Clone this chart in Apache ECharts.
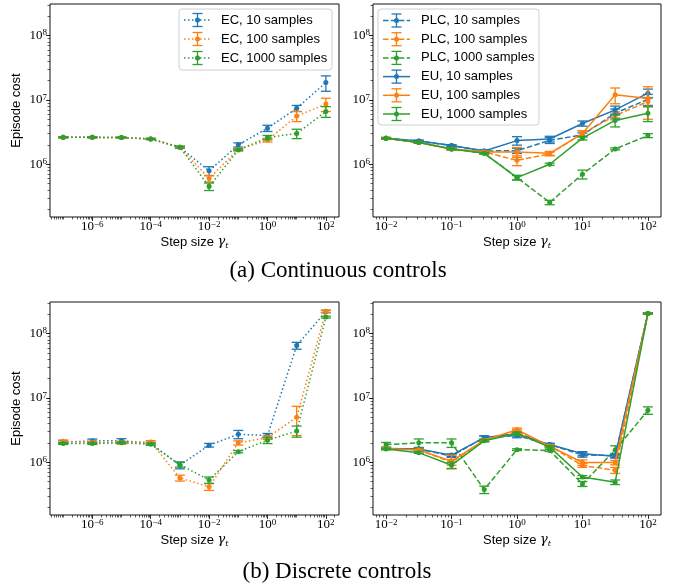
<!DOCTYPE html>
<html><head><meta charset="utf-8">
<script src="https://cdn.jsdelivr.net/npm/echarts@6/dist/echarts.min.js"></script>
<style>html,body{margin:0;padding:0;background:#fff}#c{width:675px;height:587px}</style>
</head><body><div id="c"></div>
<script>
// ---------- data ----------
const xEC = [1e-7, 1e-6, 1e-5, 1e-4, 1e-3, 1e-2, 1e-1, 1, 10, 100];
const xPU = [0.01, 0.0316, 0.1, 0.316, 1, 3.16, 10, 31.6, 100];

const ecXTicks = [1e-6, 1e-4, 1e-2, 1, 100];
const puXTicks = [0.01, 0.1, 1, 10, 100];
const yTicks = [1e6, 1e7, 1e8];

// (a) Continuous controls
const ec10C      = [2.62e6, 2.62e6, 2.60e6, 2.47e6, 1.84e6, 7.9e5, 2.0e6, 3.63e6, 7.4e6, 1.86e7];
const ec10CErr   = [4e4, 4e4, 4e4, 5e4, 6e4, 1.25e5, 1.5e5, 4e5, 8e5, 5e6];
const ec100C     = [2.62e6, 2.62e6, 2.60e6, 2.47e6, 1.84e6, 6.0e5, 1.7e6, 2.37e6, 5.6e6, 8.6e6];
const ec100CErr  = [4e4, 4e4, 4e4, 5e4, 6e4, 7e4, 6e4, 1.5e5, 1e6, 2e6];
const ec1000C    = [2.62e6, 2.62e6, 2.60e6, 2.47e6, 1.84e6, 4.5e5, 1.66e6, 2.6e6, 3.0e6, 6.6e6];
const ec1000CErr = [4e4, 4e4, 4e4, 5e4, 6e4, 6e4, 5e4, 2e5, 5e5, 1.25e6];

const plc10C      = [2.54e6, 2.3e6, 1.95e6, 1.61e6, 1.62e6, 2.35e6, 2.86e6, 6.2e6, 1.02e7];
const plc10CErr   = [6e4, 6e4, 6e4, 5e4, 1.5e5, 2.5e5, 2e5, 1e6, 2e6];
const plc100C     = [2.54e6, 2.17e6, 1.73e6, 1.55e6, 1.15e6, 1.45e6, 3.0e6, 5.7e6, 9.4e6];
const plc100CErr  = [6e4, 6e4, 6e4, 5e4, 2e5, 1e5, 3e5, 8e5, 1.5e6];
const plc1000C    = [2.54e6, 2.17e6, 1.73e6, 1.48e6, 6.2e5, 2.55e5, 7.0e5, 1.73e6, 2.79e6];
const plc1000CErr = [5e4, 5e4, 5e4, 4e4, 5e4, 2e4, 1.1e5, 6e4, 2e5];
const eu10C       = [2.54e6, 2.3e6, 1.95e6, 1.61e6, 2.33e6, 2.47e6, 4.3e6, 7.0e6, 1.27e7];
const eu10CErr    = [6e4, 6e4, 6e4, 5e4, 3.5e5, 2.5e5, 4e5, 1e6, 2e6];
const eu100C      = [2.54e6, 2.17e6, 1.73e6, 1.55e6, 1.55e6, 1.48e6, 3.0e6, 1.2e7, 1.05e7];
const eu100CErr   = [6e4, 6e4, 6e4, 5e4, 2.7e5, 1e5, 3e5, 3.3e6, 5.5e6];
const eu1000C     = [2.54e6, 2.17e6, 1.73e6, 1.48e6, 6.2e5, 1.0e6, 2.54e6, 4.8e6, 6.2e6];
const eu1000CErr  = [5e4, 5e4, 5e4, 4e4, 5e4, 4e4, 1.5e5, 1e6, 1.6e6];

// (b) Discrete controls
const ec10D      = [2.05e6, 2.14e6, 2.17e6, 1.95e6, 9.0e5, 1.84e6, 2.72e6, 2.6e6, 6.5e7, 2.2e8];
const ec10DErr   = [1e5, 1.5e5, 1.5e5, 1e5, 1.1e5, 1.2e5, 4e5, 2e5, 8e6, 1e7];
const ec100D     = [2.12e6, 2.03e6, 2.02e6, 2.07e6, 5.7e5, 4.15e5, 2.0e6, 2.42e6, 5.0e6, 2.22e8];
const ec100DErr  = [1e5, 8e4, 1e5, 1e5, 6e4, 5e4, 1.5e5, 1.5e5, 2.4e6, 8e6];
const ec1000D    = [1.95e6, 1.95e6, 2.0e6, 1.9e6, 9.2e5, 5.3e5, 1.46e6, 2.2e6, 3.05e6, 1.8e8];
const ec1000DErr = [6e4, 6e4, 6e4, 6e4, 8e4, 6e4, 6e4, 2.5e5, 6e5, 6e6];

const plc10D      = [1.63e6, 1.6e6, 1.25e6, 2.42e6, 2.6e6, 1.88e6, 1.3e6, 1.27e6, 2.05e8];
const plc10DErr   = [5e4, 5e4, 6e4, 1.5e5, 2e5, 8e4, 1e5, 8e4, 5e6];
const plc100D     = [1.63e6, 1.55e6, 1.0e6, 2.2e6, 3.0e6, 1.78e6, 8.9e5, 7.5e5, 2.05e8];
const plc100DErr  = [5e4, 5e4, 1e5, 1e5, 2e5, 8e4, 6e4, 8e4, 5e6];
const plc1000D    = [1.88e6, 2.0e6, 2.0e6, 3.76e5, 1.57e6, 1.52e6, 4.6e5, 1.55e6, 6.4e6];
const plc1000DErr = [1.5e5, 3e5, 3e5, 5e4, 5e4, 5e4, 4e4, 2.5e5, 8.5e5];
const eu10D       = [1.63e6, 1.6e6, 1.29e6, 2.42e6, 2.75e6, 1.88e6, 1.36e6, 1.24e6, 2.05e8];
const eu10DErr    = [5e4, 5e4, 6e4, 1.5e5, 2e5, 8e4, 1e5, 8e4, 5e6];
const eu100D      = [1.63e6, 1.55e6, 1.04e6, 2.2e6, 3.2e6, 1.78e6, 9.9e5, 9.9e5, 2.05e8];
const eu100DErr   = [5e4, 5e4, 2.5e5, 1e5, 2e5, 8e4, 1e5, 8e4, 5e6];
const eu1000D     = [1.6e6, 1.41e6, 9.0e5, 2.15e6, 2.79e6, 1.72e6, 5.9e5, 4.9e5, 2.05e8];
const eu1000DErr  = [4e4, 4e4, 1e5, 8e4, 1.5e5, 6e4, 3e4, 4e4, 4e6];

// ---------- styling ----------
const BLUE = '#1f77b4', ORANGE = '#ff7f0e', GREEN = '#2ca02c';
const DOT = [1.5, 2.5], DASH = [5.5, 2.4], SOLID = 'solid';
const X_EC = [3.548e-8, 281.8];
const X_PU = [6.31e-3, 158.5];
const Y_R = [1.514e5, 3.09e8];
const grids = [
  {left: 50, top: 4, width: 289, height: 213},
  {left: 373, top: 4, width: 288, height: 213},
  {left: 50, top: 302, width: 289, height: 213},
  {left: 373, top: 302, width: 288, height: 213}
];

function minorVals(r) {
  const lo = Math.log10(r[0]), hi = Math.log10(r[1]), out = [];
  for (let e = Math.floor(lo) - 1; e <= Math.ceil(hi); e++) {
    for (let m = 1; m <= 9; m++) {
      const v = m * Math.pow(10, e), l = Math.log10(v);
      if (l > lo && l < hi) out.push(v);
    }
  }
  return out;
}
function supFmt(v) {
  const e = Math.round(Math.log10(v));
  return '{b|10}{s|' + (e < 0 ? '\u2212' + (-e) : String(e)) + '}';
}
const labelRich = {
  b: {fontFamily: 'Liberation Serif', fontSize: 13, lineHeight: 14, color: '#000'},
  s: {fontFamily: 'Liberation Serif', fontSize: 9, lineHeight: 8, verticalAlign: 'top', color: '#000'}
};
const nameRich = {
  a: {fontFamily: 'Liberation Sans', fontSize: 13, color: '#000', lineHeight: 16},
  g: {fontFamily: 'DejaVu Serif', fontStyle: 'italic', fontSize: 13, color: '#000', lineHeight: 16},
  t: {fontFamily: 'DejaVu Serif', fontStyle: 'italic', fontSize: 8, color: '#000', lineHeight: 11, verticalAlign: 'bottom'}
};

const xAxes = [], yAxes = [];
function addAxes(gi, xr, xTicks, xMinor, showYName) {
  xAxes.push({
    type: 'log', logBase: 10, gridIndex: gi, position: 'bottom', min: xr[0], max: xr[1],
    axisLine: {show: false}, splitLine: {show: false},
    axisTick: {show: true, length: 4, lineStyle: {color: '#000', width: 0.8}, customValues: xTicks},
    axisLabel: {show: true, customValues: xTicks, formatter: supFmt, margin: 3, rich: labelRich},
    name: '{a|Step size }{g|\u03b3}{t|t}', nameLocation: 'middle', nameGap: 17,
    nameTextStyle: {rich: nameRich}
  });
  xAxes.push({
    type: 'log', logBase: 10, gridIndex: gi, position: 'bottom', offset: 0, min: xr[0], max: xr[1],
    axisLine: {show: false}, splitLine: {show: false}, axisLabel: {show: false},
    axisTick: {show: true, length: 2.5, lineStyle: {color: '#000', width: 0.6}, customValues: xMinor}
  });
  yAxes.push({
    type: 'log', logBase: 10, gridIndex: gi, position: 'left', min: Y_R[0], max: Y_R[1],
    axisLine: {show: false}, splitLine: {show: false},
    axisTick: {show: true, length: 4, lineStyle: {color: '#000', width: 0.8}, customValues: yTicks},
    axisLabel: {show: true, customValues: yTicks, formatter: supFmt, margin: 3, rich: labelRich},
    name: showYName ? 'Episode cost' : '', nameLocation: 'middle', nameGap: 27,
    nameTextStyle: {fontFamily: 'Liberation Sans', fontSize: 13, color: '#000'}
  });
  yAxes.push({
    type: 'log', logBase: 10, gridIndex: gi, position: 'left', offset: 0, min: Y_R[0], max: Y_R[1],
    axisLine: {show: false}, splitLine: {show: false}, axisLabel: {show: false},
    axisTick: {show: true, length: 2.5, lineStyle: {color: '#000', width: 0.6}, customValues: minorVals(Y_R)}
  });
}
const ecMinor = minorVals(X_EC).filter(v => !ecXTicks.some(t => Math.abs(Math.log10(t) - Math.log10(v)) < 1e-9));
const puMinor = minorVals(X_PU).filter(v => !puXTicks.some(t => Math.abs(Math.log10(t) - Math.log10(v)) < 1e-9));
addAxes(0, X_EC, ecXTicks, ecMinor, true);
addAxes(1, X_PU, puXTicks, puMinor, false);
addAxes(2, X_EC, ecXTicks, ecMinor, true);
addAxes(3, X_PU, puXTicks, puMinor, false);

const series = [];
let zc = 2;
function addSeries(gi, xs, ys, errs, color, dash, name) {
  const axi = gi * 2;
  const pts = xs.map((x, i) => [x, ys[i]]);
  const ep = xs.map((x, i) => [x, ys[i], errs[i]]);
  series.push({
    type: 'custom', name: name, xAxisIndex: axi, yAxisIndex: axi, z: zc++,
    data: ep, encode: {x: 0, y: 1}, silent: true, clip: false,
    renderItem: function (params, api) {
      const x = api.value(0), y = api.value(1), e = api.value(2);
      const lo = Math.max(y - e, 1);
      const p0 = api.coord([x, lo]), p1 = api.coord([x, y + e]);
      const cw = 5;
      const st = {stroke: color, lineWidth: 1.3, fill: null};
      return {type: 'group', children: [
        {type: 'line', shape: {x1: p0[0], y1: p0[1], x2: p1[0], y2: p1[1]}, style: st},
        {type: 'line', shape: {x1: p0[0] - cw, y1: p0[1], x2: p0[0] + cw, y2: p0[1]}, style: st},
        {type: 'line', shape: {x1: p1[0] - cw, y1: p1[1], x2: p1[0] + cw, y2: p1[1]}, style: st}
      ]};
    }
  });
  series.push({
    type: 'line', name: name, xAxisIndex: axi, yAxisIndex: axi, z: zc++,
    data: pts, symbol: 'circle', symbolSize: 5, showAllSymbol: true,
    itemStyle: {color: color}, silent: true,
    lineStyle: {color: color, width: 1.5, type: dash, cap: 'butt'}
  });
}
addSeries(0, xEC, ec10C, ec10CErr, BLUE, DOT, 'EC, 10 samples');
addSeries(0, xEC, ec100C, ec100CErr, ORANGE, DOT, 'EC, 100 samples');
addSeries(0, xEC, ec1000C, ec1000CErr, GREEN, DOT, 'EC, 1000 samples');
addSeries(1, xPU, plc10C, plc10CErr, BLUE, DASH, 'PLC, 10 samples');
addSeries(1, xPU, plc100C, plc100CErr, ORANGE, DASH, 'PLC, 100 samples');
addSeries(1, xPU, plc1000C, plc1000CErr, GREEN, DASH, 'PLC, 1000 samples');
addSeries(1, xPU, eu10C, eu10CErr, BLUE, SOLID, 'EU, 10 samples');
addSeries(1, xPU, eu100C, eu100CErr, ORANGE, SOLID, 'EU, 100 samples');
addSeries(1, xPU, eu1000C, eu1000CErr, GREEN, SOLID, 'EU, 1000 samples');
addSeries(2, xEC, ec10D, ec10DErr, BLUE, DOT, 'EC, 10 samples');
addSeries(2, xEC, ec100D, ec100DErr, ORANGE, DOT, 'EC, 100 samples');
addSeries(2, xEC, ec1000D, ec1000DErr, GREEN, DOT, 'EC, 1000 samples');
addSeries(3, xPU, plc10D, plc10DErr, BLUE, DASH, 'PLC, 10 samples');
addSeries(3, xPU, plc100D, plc100DErr, ORANGE, DASH, 'PLC, 100 samples');
addSeries(3, xPU, plc1000D, plc1000DErr, GREEN, DASH, 'PLC, 1000 samples');
addSeries(3, xPU, eu10D, eu10DErr, BLUE, SOLID, 'EU, 10 samples');
addSeries(3, xPU, eu100D, eu100DErr, ORANGE, SOLID, 'EU, 100 samples');
addSeries(3, xPU, eu1000D, eu1000DErr, GREEN, SOLID, 'EU, 1000 samples');

// ---------- legends (drawn as graphics) ----------
function legendGroup(bx, by, bw, bh, hx, tx, y0, dy, items) {
  const ch = [{type: 'rect', shape: {x: bx, y: by, width: bw, height: bh, r: 3},
    style: {fill: 'rgba(255,255,255,0.85)', stroke: '#d0d0d0', lineWidth: 1}}];
  items.forEach((it, i) => {
    const y = y0 + i * dy, cx = hx + 13.5;
    const st = {stroke: it[1], lineWidth: 1.3};
    ch.push({type: 'line', shape: {x1: hx, y1: y, x2: hx + 27, y2: y},
      style: {stroke: it[1], lineWidth: 1.5, lineDash: it[2] === SOLID ? null : it[2]}});
    ch.push({type: 'line', shape: {x1: cx, y1: y - 6.5, x2: cx, y2: y + 6.5}, style: st});
    ch.push({type: 'line', shape: {x1: cx - 5, y1: y - 6.5, x2: cx + 5, y2: y - 6.5}, style: st});
    ch.push({type: 'line', shape: {x1: cx - 5, y1: y + 6.5, x2: cx + 5, y2: y + 6.5}, style: st});
    ch.push({type: 'circle', shape: {cx: cx, cy: y, r: 2.5}, style: {fill: it[1]}});
    ch.push({type: 'text', style: {x: tx, y: y, text: it[0], textVerticalAlign: 'middle',
      font: '13px "Liberation Sans"', fill: '#000'}});
  });
  return {type: 'group', silent: true, z: 100, children: ch};
}
const legA = [['EC, 10 samples', BLUE, DOT], ['EC, 100 samples', ORANGE, DOT], ['EC, 1000 samples', GREEN, DOT]];
const legB = [['PLC, 10 samples', BLUE, DASH], ['PLC, 100 samples', ORANGE, DASH], ['PLC, 1000 samples', GREEN, DASH],
  ['EU, 10 samples', BLUE, SOLID], ['EU, 100 samples', ORANGE, SOLID], ['EU, 1000 samples', GREEN, SOLID]];

const chart = echarts.init(document.getElementById('c'), null, {renderer: 'canvas'});
chart.setOption({
  animation: false,
  backgroundColor: '#fff',
  grid: grids.map(g => Object.assign({show: true, borderColor: '#111', borderWidth: 1, backgroundColor: 'transparent', containLabel: false}, g)),
  xAxis: xAxes,
  yAxis: yAxes,
  series: series,
  graphic: [
    legendGroup(179, 9, 153, 61, 184, 221, 20, 19, legA),
    legendGroup(378, 9, 161, 116, 383, 421, 20.5, 18.7, legB),
    {type: 'text', style: {x: 338, y: 271, text: '(a) Continuous controls', textAlign: 'center', textVerticalAlign: 'middle',
      font: '23px "Liberation Serif"', fill: '#000'}},
    {type: 'text', style: {x: 337, y: 572, text: '(b) Discrete controls', textAlign: 'center', textVerticalAlign: 'middle',
      font: '23px "Liberation Serif"', fill: '#000'}}
  ]
});
</script></body></html>
